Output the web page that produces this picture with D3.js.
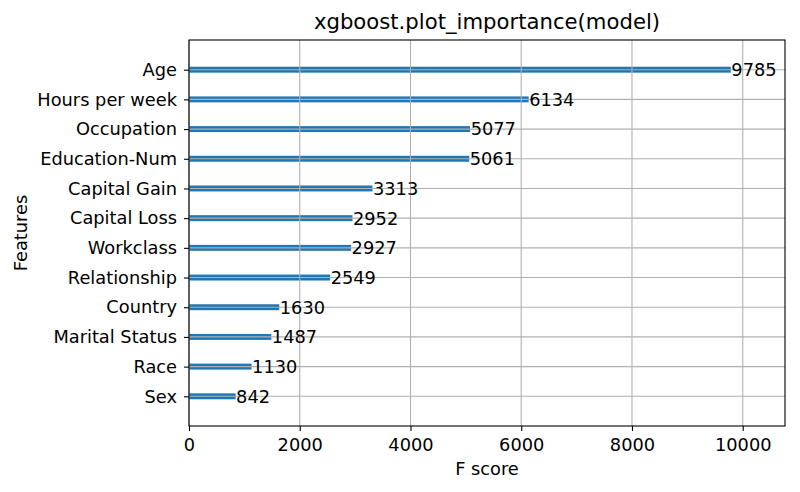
<!DOCTYPE html>
<html><head><meta charset="utf-8">
<script src="https://cdn.jsdelivr.net/npm/d3@7/dist/d3.min.js"></script>
<style>body{margin:0;background:#fff}svg text{font-family:"DejaVu Sans",sans-serif;fill:#000}</style>
</head><body><svg id="c" width="800" height="492"></svg>
<script>
const features = ["Sex","Race","Marital Status","Country","Relationship","Workclass","Capital Loss","Capital Gain","Education-Num","Occupation","Hours per week","Age"];
const scores = [842,1130,1487,1630,2549,2927,2952,3313,5061,5077,6134,9785];
const xTicks = [0,2000,4000,6000,8000,10000];
const titleText = "xgboost.plot_importance(model)";
const xLabel = "F score", yLabel = "Features";

const svg = d3.select("#c");
const L = 189, R = 785, T = 40, B = 426;
const fs = 17.8;
const x = d3.scaleLinear().domain([0, d3.max(scores)*1.1]).range([L, R]);
const y = d3.scaleLinear().domain([-1, features.length]).range([B, T]);
const barH = y(0) - y(0.2);

// bars
svg.append("g").selectAll("rect").data(scores).join("rect")
  .attr("x", x(0)).attr("y", (d,i)=>y(i)-barH/2)
  .attr("width", d=>x(d)-x(0)).attr("height", barH)
  .attr("fill", "#1f77b4");

// grid
const grid = svg.append("g").attr("stroke", "#b0b0b0").attr("stroke-width", 1.1);
xTicks.forEach(t=>grid.append("line").attr("x1", x(t)).attr("x2", x(t)).attr("y1", T).attr("y2", B));
features.forEach((f,i)=>grid.append("line").attr("x1", L).attr("x2", R).attr("y1", y(i)).attr("y2", y(i)));

// value labels
svg.append("g").selectAll("text").data(scores).join("text")
  .attr("x", d=>x(d)+0.5).attr("y", (d,i)=>y(i)).attr("dy","0.36em")
  .attr("font-size", fs).text(d=>d);

// axes
const xa = svg.append("g").attr("transform", `translate(0,${B})`)
  .call(d3.axisBottom(x).tickValues(xTicks).tickFormat(d3.format("d")).tickSize(5).tickPadding(7));
const ya = svg.append("g").attr("transform", `translate(${L},0)`)
  .call(d3.axisLeft(y).tickValues(d3.range(features.length)).tickFormat(i=>features[i]).tickSize(5).tickPadding(7));
[xa, ya].forEach(a=>{
  a.select(".domain").remove();
  a.selectAll("text").attr("font-size", fs).attr("font-family", '"DejaVu Sans",sans-serif').attr("fill","#000");
  a.selectAll("line").attr("stroke","#000").attr("stroke-width",1.1);
});
svg.append("rect").attr("x", L).attr("y", T).attr("width", R-L).attr("height", B-T)
  .attr("fill","none").attr("stroke","#000").attr("stroke-width",1.1);

svg.append("text").attr("x", (L+R)/2).attr("y", 29).attr("text-anchor","middle").attr("font-size", 21.2).text(titleText);
svg.append("text").attr("x", (L+R)/2).attr("y", 475).attr("text-anchor","middle").attr("font-size", fs).text(xLabel);
svg.append("text").attr("transform", `translate(27,${(T+B)/2}) rotate(-90)`).attr("text-anchor","middle").attr("font-size", fs).text(yLabel);
</script></body></html>
